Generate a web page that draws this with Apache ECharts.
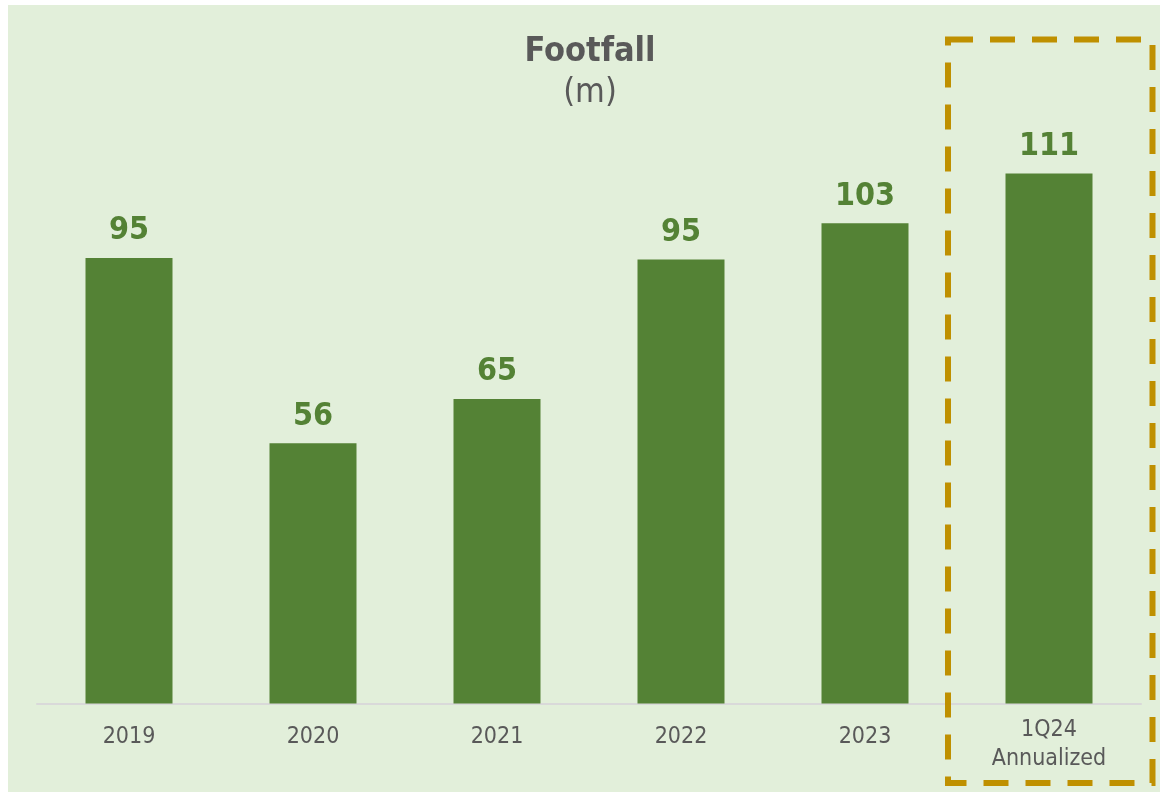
<!DOCTYPE html>
<html>
<head>
<meta charset="utf-8">
<script src="https://cdn.jsdelivr.net/npm/echarts@6/dist/echarts.min.js"></script>
<style>
  html, body { margin: 0; padding: 0; background: #ffffff; }
  #chart { position: absolute; left: 0; top: 0; width: 1160px; height: 792px; }
</style>
</head>
<body>
<div id="chart"></div>
<script>
// ---- data ----
const categories = ['2019', '2020', '2021', '2022', '2023', '1Q24\nAnnualized'];
const barValues = [95.7, 55.9, 65.4, 95.4, 103.2, 113.9];
const valueLabels = ['95', '56', '65', '95', '103', '111'];

const FONT = "'DejaVu Sans Condensed', 'DejaVu Sans', sans-serif";
const GREEN = '#548235';
const GREY = '#595959';

const chart = echarts.init(document.getElementById('chart'), null, { renderer: 'canvas' });

chart.setOption({
  backgroundColor: 'transparent',
  animation: false,
  graphic: [
    {
      type: 'rect', z: -10, silent: true,
      shape: { x: 8, y: 5, width: 1152, height: 787 },
      style: { fill: '#e2efda' }
    },
    {
      type: 'rect', z: 10, silent: true,
      shape: { x: 948, y: 39.5, width: 204.5, height: 743.5 },
      style: { fill: 'none', stroke: '#bf9000', lineWidth: 6, lineDash: [25, 17] }
    }
  ],
  title: [
    {
      text: 'Footfall',
      left: 585, top: 30, textAlign: 'center',
      textStyle: { fontFamily: FONT, fontSize: 34, fontWeight: 'bold', color: GREY, lineHeight: 34 }
    },
    {
      text: '(m)',
      left: 585, top: 71, textAlign: 'center',
      textStyle: { fontFamily: FONT, fontSize: 34, fontWeight: 'normal', color: GREY, lineHeight: 34 }
    }
  ],
  grid: { left: 37, right: 19, top: 145, bottom: 88.5, containLabel: false },
  xAxis: {
    type: 'category',
    data: categories,
    axisLine: { show: true, lineStyle: { color: '#d9d9d9', width: 2 } },
    axisTick: { show: false },
    axisLabel: {
      margin: 12,
      interval: 0,
      formatter: function (v) {
        if (v.indexOf('\n') >= 0) {
          return v.split('\n').map(function (s) { return '{m|' + s + '}'; }).join('\n');
        }
        return '{s|' + v + '}';
      },
      rich: {
        s: { fontFamily: FONT, fontSize: 23, color: GREY, lineHeight: 43 },
        m: { fontFamily: FONT, fontSize: 23, color: GREY, lineHeight: 29 }
      }
    }
  },
  yAxis: {
    type: 'value', min: 0, max: 120, show: false,
    splitLine: { show: false }
  },
  series: [
    {
      type: 'bar',
      data: barValues,
      barWidth: 87,
      itemStyle: { color: GREEN },
      label: {
        show: true,
        position: 'top',
        distance: 11,
        fontFamily: FONT,
        fontSize: 32,
        fontWeight: 'bold',
        color: GREEN,
        formatter: function (p) { return valueLabels[p.dataIndex]; }
      }
    }
  ]
});
</script>
</body>
</html>
